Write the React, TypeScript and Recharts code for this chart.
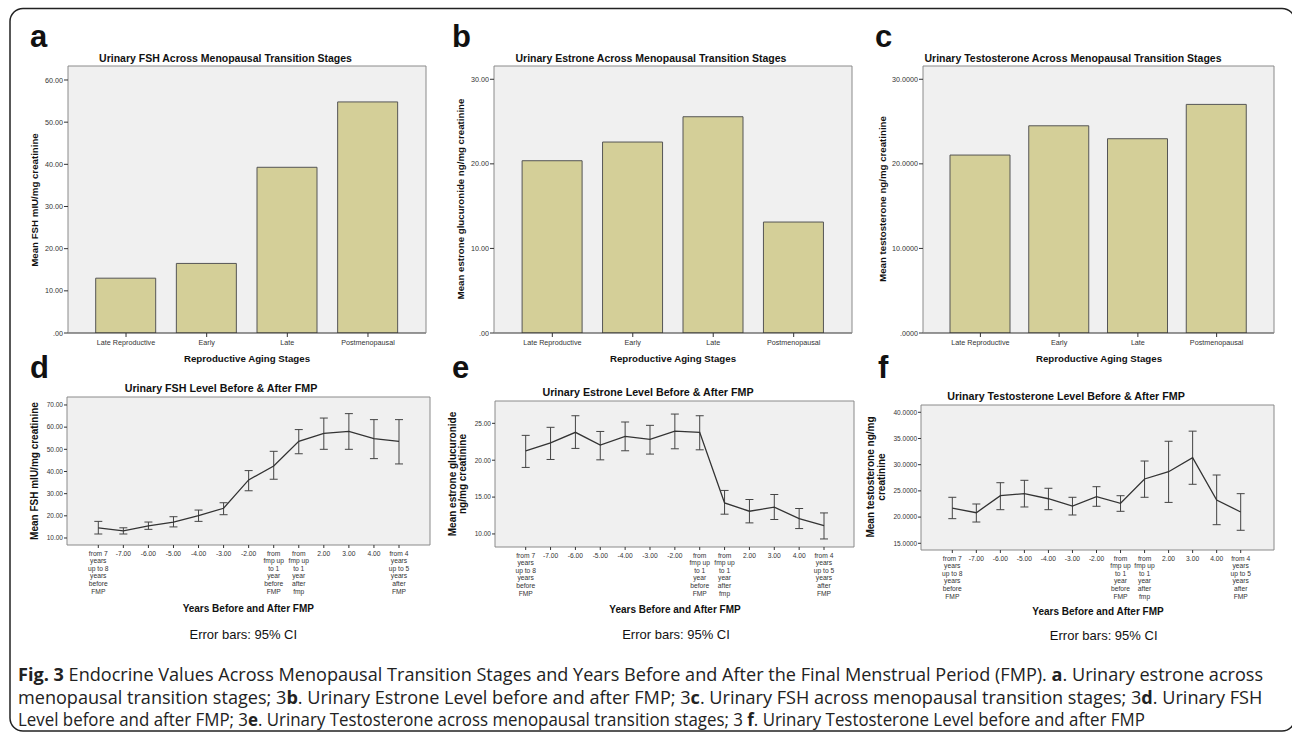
import React, { useLayoutEffect, useRef, useState } from 'react';
import { BarChart, Bar, LineChart, Line, XAxis, YAxis, CartesianGrid, ErrorBar } from 'recharts';

// stage bar panels (a, b, c)
const stages = ['Late Reproductive', 'Early', 'Late', 'Postmenopausal'];
const fshByStage = [13.0, 16.5, 39.3, 54.8];
const estroneByStage = [20.37, 22.58, 25.57, 13.12];
const testoByStage = [21.04, 24.5, 22.97, 27.03];

// years around FMP (d, e, f)
const fmpYears = [
  'from 7\nyears\nup to 8\nyears\nbefore\nFMP',
  '-7.00',
  '-6.00',
  '-5.00',
  '-4.00',
  '-3.00',
  '-2.00',
  'from\nfmp up\nto 1\nyear\nbefore\nFMP',
  'from\nfmp up\nto 1\nyear\nafter\nfmp',
  '2.00',
  '3.00',
  '4.00',
  'from 4\nyears\nup to 5\nyears\nafter\nFMP',
];

const fshMean = [14.6, 13.2, 15.5, 17.2, 20.1, 23.4, 36.2, 42.5, 53.6, 57.2, 58.1, 54.8, 53.6];
const fshLo = [11.8, 11.8, 13.9, 15.0, 17.5, 20.5, 31.3, 36.5, 48.0, 50.0, 50.0, 45.8, 43.4];
const fshHi = [17.5, 14.6, 17.2, 19.6, 22.6, 25.9, 40.4, 49.1, 58.9, 64.1, 66.1, 63.4, 63.4];

const estroneMean = [21.28, 22.36, 23.78, 22.05, 23.23, 22.83, 23.95, 23.78, 14.21, 13.08, 13.63, 12.09, 11.14];
const estroneLo = [19.02, 20.1, 21.6, 20.05, 21.28, 20.83, 21.55, 21.41, 12.68, 11.5, 11.96, 10.73, 9.32];
const estroneHi = [23.37, 24.46, 26.03, 23.9, 25.18, 24.73, 26.26, 26.03, 15.9, 14.67, 15.35, 13.45, 12.85];

const testoMean = [21.7, 20.84, 24.08, 24.47, 23.5, 22.1, 23.9, 22.63, 27.27, 28.66, 31.34, 23.26, 20.97];
const testoLo = [19.7, 19.06, 21.41, 21.93, 21.41, 20.4, 22.06, 21.1, 23.78, 22.8, 26.26, 18.55, 17.48];
const testoHi = [23.78, 22.5, 26.56, 27.02, 25.5, 23.78, 25.8, 24.08, 30.7, 34.47, 36.4, 28.03, 24.47];

const ticks60 = [0, 10, 20, 30, 40, 50, 60];
const ticks30 = [0, 10, 20, 30];
const ticksFsh = [10, 20, 30, 40, 50, 60, 70];
const ticksEstrone = [10, 15, 20, 25];
const ticksTesto = [15, 20, 25, 30, 35, 40];

const FONT = "'Liberation Sans', Arial, Helvetica, sans-serif";
const CAP_FONT = "'Open Sans', 'Noto Sans', sans-serif";
const BAR_FILL = '#d4cf98';
const PLOT_BG = '#f0f0f0';
const FRAME = '#8a8a8a';

type Rect = { x: number; y: number; w: number; h: number };

const plotA = { x: 68, y: 66, w: 358, h: 267 };
const plotB = { x: 494, y: 66, w: 358, h: 267 };
const plotC = { x: 923, y: 66, w: 351, h: 267 };
const plotD = { x: 67, y: 397, w: 363, h: 148 };
const plotE = { x: 495, y: 401, w: 359, h: 146 };
const plotF = { x: 921, y: 405, w: 353, h: 145 };

const fmt2 = (v: number) => (v === 0 ? '.00' : v.toFixed(2));
const fmt4 = (v: number) => (v === 0 ? '.0000' : v.toFixed(4));

const StageBars = ({ plot, values, domain, ticks, fmt, pad }: { plot: Rect; values: number[]; domain: number[]; ticks: number[]; fmt: (v: number) => string; pad: number }) => {
  const data = stages.map((name, i) => ({ name, value: values[i] }));
  const YW = 40;
  const XH = 20;
  const w = plot.w + YW;
  const h = plot.h + XH;
  return (
    <div style={{ position: 'absolute', left: plot.x - YW, top: plot.y, width: w, height: h }}>
      <BarChart width={w} height={h} data={data} margin={{ top: 0, right: 0, bottom: 0, left: 0 }}>
        <CartesianGrid fill={PLOT_BG} stroke="none" />
        <XAxis
          dataKey="name"
          height={XH}
          interval={0}
          padding={{ left: pad, right: pad }}
          tickSize={4}
          tickMargin={3}
          axisLine={{ stroke: '#333' }}
          tickLine={{ stroke: '#333' }}
          tick={{ fontSize: 7.2, fill: '#333', fontFamily: FONT }}
        />
        <YAxis
          type="number"
          domain={domain}
          ticks={ticks}
          allowDataOverflow
          width={YW}
          tickFormatter={fmt}
          tickSize={4}
          tickMargin={1}
          axisLine={{ stroke: FRAME }}
          tickLine={{ stroke: '#333' }}
          tick={{ fontSize: 7.2, fill: '#333', fontFamily: FONT }}
        />
        <Bar dataKey="value" fill={BAR_FILL} stroke="#555" strokeWidth={1} barSize={60} isAnimationActive={false} />
      </BarChart>
    </div>
  );
};

const MultiTick = (props: any) => {
  const { x, y, payload } = props;
  const lines = String(payload.value).split('\n');
  return (
    <text x={x} y={y} textAnchor="middle" fontSize={6.7} fill="#333" fontFamily={FONT}>
      {lines.map((l, i) => (
        <tspan key={i} x={x} dy={i === 0 ? 5.5 : 7.6}>
          {l}
        </tspan>
      ))}
    </text>
  );
};

const FmpLine = ({ plot, mean, lo, hi, domain, ticks, fmt, padL, padR }: { plot: Rect; mean: number[]; lo: number[]; hi: number[]; domain: number[]; ticks: number[]; fmt: (v: number) => string; padL: number; padR: number }) => {
  const data = fmpYears.map((name, i) => ({ name, mean: mean[i], err: [mean[i] - lo[i], hi[i] - mean[i]] }));
  const YW = 40;
  const XH = 60;
  const w = plot.w + YW;
  const h = plot.h + XH;
  return (
    <div style={{ position: 'absolute', left: plot.x - YW, top: plot.y, width: w, height: h }}>
      <LineChart width={w} height={h} data={data} margin={{ top: 0, right: 0, bottom: 0, left: 0 }}>
        <CartesianGrid fill={PLOT_BG} stroke="none" />
        <XAxis
          dataKey="name"
          height={XH}
          interval={0}
          padding={{ left: padL, right: padR }}
          tickSize={3}
          tickMargin={2}
          axisLine={{ stroke: FRAME }}
          tickLine={{ stroke: '#333' }}
          tick={(p: any) => <MultiTick {...p} />}
        />
        <YAxis
          type="number"
          domain={domain}
          ticks={ticks}
          allowDataOverflow
          width={YW}
          tickFormatter={fmt}
          tickSize={3}
          tickMargin={1}
          axisLine={{ stroke: FRAME }}
          tickLine={{ stroke: '#333' }}
          tick={{ fontSize: 6.5, fill: '#333', fontFamily: FONT }}
        />
        <Line dataKey="mean" type="linear" stroke="#333" strokeWidth={1.3} dot={false} isAnimationActive={false}>
          <ErrorBar dataKey="err" direction="y" width={4} stroke="#444" strokeWidth={1} isAnimationActive={false} />
        </Line>
      </LineChart>
    </div>
  );
};

// top and right edges of a plot frame (left/bottom come from the axes)
const FrameEdge = ({ p }: { p: Rect }) => (
  <path d={`M${p.x},${p.y} H${p.x + p.w} V${p.y + p.h}`} fill="none" stroke={FRAME} strokeWidth={1} />
);

const Txt = ({ x, y, size, bold, anchor = 'middle', children }: any) => (
  <text x={x} y={y} fontSize={size} fontWeight={bold ? 'bold' : 'normal'} textAnchor={anchor} fontFamily={FONT} fill="#111">
    {children}
  </text>
);

const VTxt = ({ x, y, size, children }: any) => (
  <text transform={`translate(${x},${y}) rotate(-90)`} fontSize={size} fontWeight="bold" textAnchor="middle" dominantBaseline="central" fontFamily={FONT} fill="#111">
    {children}
  </text>
);

const CapLine = ({ top, width, parts }: { top: number; width: number; parts: [string, boolean][] }) => {
  const ref = useRef<HTMLDivElement>(null);
  const [k, setK] = useState(1);
  useLayoutEffect(() => {
    if (ref.current) setK(width / ref.current.scrollWidth);
  }, [width]);
  return (
    <div
      ref={ref}
      style={{
        position: 'absolute',
        left: 18,
        top,
        whiteSpace: 'pre',
        fontSize: 18,
        lineHeight: '20px',
        fontFamily: CAP_FONT,
        color: '#222',
        transform: `scaleX(${k})`,
        transformOrigin: '0 0',
      }}
    >
      {parts.map(([s, b], i) => (
        <span key={i} style={{ fontWeight: b ? 'bold' : 'normal' }}>
          {s}
        </span>
      ))}
    </div>
  );
};

export default function App() {
  return (
    <div style={{ position: 'absolute', left: 0, top: 0, width: 1292, height: 736, background: '#fff', overflow: 'hidden' }}>
      <StageBars plot={plotA} values={fshByStage} domain={[0, 63.32]} ticks={ticks60} fmt={fmt2} pad={17.7} />
      <StageBars plot={plotB} values={estroneByStage} domain={[0, 31.57]} ticks={ticks30} fmt={fmt2} pad={18.1} />
      <StageBars plot={plotC} values={testoByStage} domain={[0, 31.57]} ticks={ticks30} fmt={fmt4} pad={18} />

      <FmpLine plot={plotD} mean={fshMean} lo={fshLo} hi={fshHi} domain={[6.84, 73.6]} ticks={ticksFsh} fmt={fmt2} padL={31.3} padR={31} />
      <FmpLine plot={plotE} mean={estroneMean} lo={estroneLo} hi={estroneHi} domain={[8.23, 28.03]} ticks={ticksEstrone} fmt={fmt2} padL={30.7} padR={30} />
      <FmpLine plot={plotF} mean={testoMean} lo={testoLo} hi={testoHi} domain={[13.72, 41.39]} ticks={ticksTesto} fmt={fmt4} padL={31.3} padR={33.3} />

      <svg width={1292} height={736} style={{ position: 'absolute', left: 0, top: 0, pointerEvents: 'none' }}>
        <rect x={10} y={8.5} width={1285} height={722.5} rx={13} fill="none" stroke="#222" strokeWidth={1.5} />

        {[plotA, plotB, plotC, plotD, plotE, plotF].map((p, i) => (
          <FrameEdge key={i} p={p} />
        ))}

        <Txt x={30} y={47} size={31} bold anchor="start">a</Txt>
        <Txt x={452} y={47} size={31} bold anchor="start">b</Txt>
        <Txt x={875} y={47} size={31} bold anchor="start">c</Txt>
        <Txt x={30} y={378} size={31} bold anchor="start">d</Txt>
        <Txt x={452} y={378} size={31} bold anchor="start">e</Txt>
        <Txt x={878} y={378} size={31} bold anchor="start">f</Txt>

        <Txt x={225.5} y={61.5} size={10.5} bold>Urinary FSH Across Menopausal Transition Stages</Txt>
        <Txt x={651} y={61.5} size={10.5} bold>Urinary Estrone Across Menopausal Transition Stages</Txt>
        <Txt x={1073} y={61.5} size={10.5} bold>Urinary Testosterone Across Menopausal Transition Stages</Txt>

        <VTxt x={34.5} y={200} size={9.7}>Mean FSH mIU/mg creatinine</VTxt>
        <VTxt x={460.5} y={199} size={9.7}>Mean estrone glucuronide ng/mg creatinine</VTxt>
        <VTxt x={882.5} y={199} size={9.7}>Mean testosterone ng/mg creatinine</VTxt>

        <Txt x={247} y={361.5} size={9.7} bold>Reproductive Aging Stages</Txt>
        <Txt x={673} y={361.5} size={9.7} bold>Reproductive Aging Stages</Txt>
        <Txt x={1099} y={361.5} size={9.7} bold>Reproductive Aging Stages</Txt>

        <Txt x={221} y={392} size={10.7} bold>Urinary FSH Level Before &amp; After FMP</Txt>
        <Txt x={648} y={396} size={10.7} bold>Urinary Estrone Level Before &amp; After FMP</Txt>
        <Txt x={1066} y={400} size={10.7} bold>Urinary Testosterone Level Before &amp; After FMP</Txt>

        <VTxt x={34.2} y={471} size={10}>Mean FSH mIU/mg creatinine</VTxt>
        <VTxt x={452.5} y={474} size={10}>Mean estrone glucuronide</VTxt>
        <VTxt x={462} y={474} size={10}>ng/mg creatinine</VTxt>
        <VTxt x={870.8} y={477} size={10}>Mean testosterone ng/mg</VTxt>
        <VTxt x={881.7} y={477} size={10}>creatinine</VTxt>

        <Txt x={248.3} y={611.5} size={10} bold>Years Before and After FMP</Txt>
        <Txt x={675} y={613} size={10} bold>Years Before and After FMP</Txt>
        <Txt x={1098} y={615} size={10} bold>Years Before and After FMP</Txt>

        <Txt x={243.3} y={639} size={13}>Error bars: 95% CI</Txt>
        <Txt x={676} y={639} size={13}>Error bars: 95% CI</Txt>
        <Txt x={1103.7} y={640} size={13}>Error bars: 95% CI</Txt>
      </svg>

      <CapLine
        top={663.7}
        width={1245}
        parts={[
          ['Fig. 3', true],
          [' Endocrine Values Across Menopausal Transition Stages and Years Before and After the Final Menstrual Period (FMP). ', false],
          ['a', true],
          ['. Urinary estrone across', false],
        ]}
      />
      <CapLine
        top={686.7}
        width={1244}
        parts={[
          ['menopausal transition stages; 3', false],
          ['b', true],
          ['. Urinary Estrone Level before and after FMP; 3', false],
          ['c', true],
          ['. Urinary FSH across menopausal transition stages; 3', false],
          ['d', true],
          ['. Urinary FSH', false],
        ]}
      />
      <CapLine
        top={708.7}
        width={1127}
        parts={[
          ['Level before and after FMP; 3', false],
          ['e', true],
          ['. Urinary Testosterone across menopausal transition stages; 3 ', false],
          ['f', true],
          ['. Urinary Testosterone Level before and after FMP', false],
        ]}
      />
    </div>
  );
}
